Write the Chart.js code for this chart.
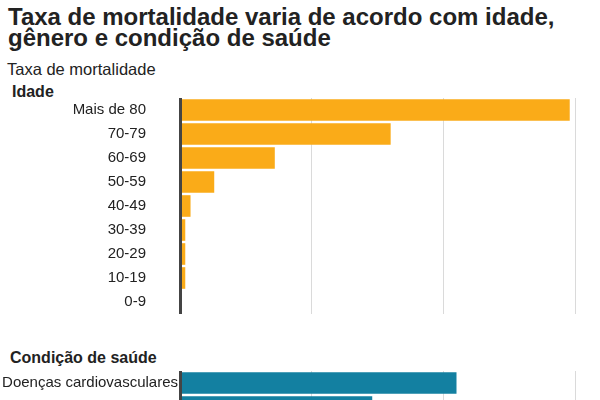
<!DOCTYPE html>
<html>
<head>
<meta charset="utf-8">
<script src="https://cdn.jsdelivr.net/npm/chart.js@4"></script>
<style>
  html, body { margin: 0; padding: 0; background: #fff; width: 600px; height: 400px; overflow: hidden; }
  body { position: relative; font-family: 'Liberation Sans', Arial, sans-serif; color: #222; }
  .txt { position: absolute; left: 0; white-space: nowrap; }
  #title { left: 8px; top: 6px; font-size: 24px; font-weight: bold; line-height: 21px; }
  #subtitle { left: 7px; top: 61px; font-size: 16.5px; line-height: 16.5px; }
  .section { left: 12px; font-size: 16px; font-weight: bold; line-height: 16px; }
  canvas { position: absolute; left: 0; }
</style>
</head>
<body>
<div id="title" class="txt">Taxa de mortalidade varia de acordo com idade,<br>gênero e condição de saúde</div>
<div id="subtitle" class="txt">Taxa de mortalidade</div>
<div class="txt section" style="top:83.5px">Idade</div>
<canvas id="ageChart" width="600" height="216" style="top:98px"></canvas>
<div class="txt section" style="top:349.5px;left:10px">Condição de saúde</div>
<canvas id="conditionChart" width="600" height="48" style="top:371px"></canvas>

<script>
// mortality rate (%) by age group
var ageLabels = ['Mais de 80', '70-79', '60-69', '50-59', '40-49', '30-39', '20-29', '10-19', '0-9'];
var ageRates = [14.8, 8.0, 3.6, 1.3, 0.4, 0.2, 0.2, 0.2, 0];

// mortality rate (%) by health condition
var conditionLabels = ['Doenças cardiovasculares', 'Diabetes'];
var conditionRates = [10.5, 7.3];

// x axis: gridlines only, no labels
var rateMax = 15;
var rateStep = 5;

Chart.defaults.font.family = "'Liberation Sans', Arial, sans-serif";
Chart.defaults.color = '#222';

function makeChart(id, labels, values, color, labelPad) {
  var ctx = document.getElementById(id).getContext('2d');
  return new Chart(ctx, {
    type: 'bar',
    data: {
      labels: labels,
      datasets: [{
        data: values,
        backgroundColor: color,
        borderWidth: 0,
        barPercentage: 0.9,
        categoryPercentage: 1
      }]
    },
    options: {
      indexAxis: 'y',
      responsive: false,
      animation: false,
      layout: { padding: { left: 0, right: 25, top: 0, bottom: 0 } },
      plugins: { legend: { display: false }, tooltip: { enabled: false } },
      scales: {
        x: {
          min: 0,
          max: rateMax,
          ticks: { display: false, stepSize: rateStep },
          grid: {
            drawTicks: false,
            lineWidth: 1,
            color: function (c) { return c.tick && c.tick.value === 0 ? 'rgba(0,0,0,0)' : '#dadada'; }
          },
          border: { display: false },
          afterFit: function (scale) {
            scale.height = 0;
            scale.paddingLeft = 0;
            scale.paddingRight = 0;
          }
        },
        y: {
          grid: { display: false, drawTicks: false },
          border: { display: true, color: '#444', width: 3, z: 1 },
          ticks: { padding: labelPad, autoSkip: false, font: { size: 15 }, color: '#222' },
          afterFit: function (scale) {
            // fixed label column, and no extra room above/below the rows
            scale.width = 180;
            scale.paddingTop = 0;
            scale.paddingBottom = 0;
          }
        }
      }
    }
  });
}

makeChart('ageChart', ageLabels, ageRates, '#FAAB18', 34);
makeChart('conditionChart', conditionLabels, conditionRates, '#1380A1', 2);
</script>
</body>
</html>
